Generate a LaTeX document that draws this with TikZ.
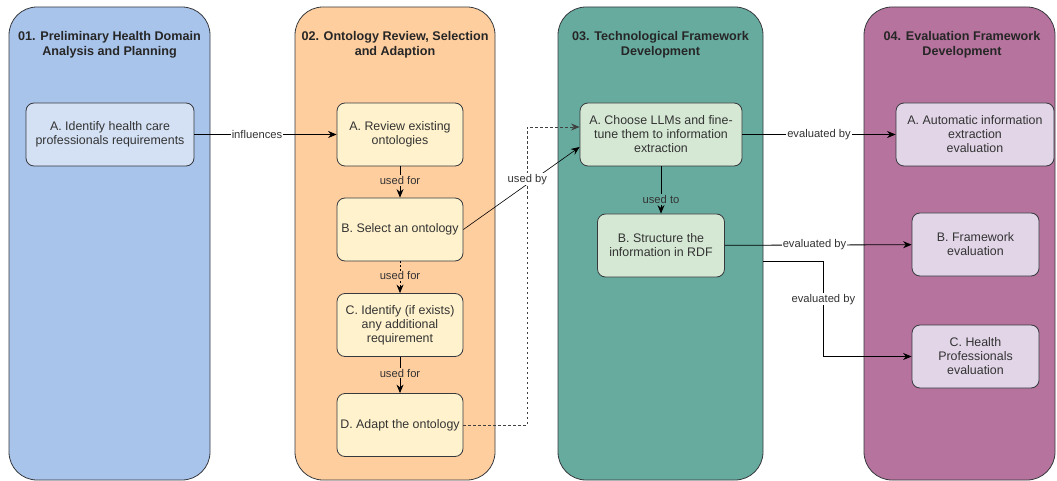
\documentclass[tikz,border=0pt]{standalone}
\usepackage{fontspec}
\setmainfont{Liberation Sans}
\usepackage{tikz}
\usetikzlibrary{arrows.meta, positioning, calc}
\definecolor{laneBlue}{HTML}{A9C4EB}
\definecolor{laneOrange}{HTML}{FFCE9F}
\definecolor{laneTeal}{HTML}{67AB9F}
\definecolor{lanePurple}{HTML}{B5739D}
\definecolor{boxBlue}{HTML}{D4E1F5}
\definecolor{boxYellow}{HTML}{FFF2CC}
\definecolor{boxGreen}{HTML}{D5E8D4}
\definecolor{boxPurple}{HTML}{E1D5E7}
\definecolor{strokeGray}{HTML}{36393D}
\tikzset{
  wf/lane/.style={rectangle, draw=strokeGray, rounded corners=28pt,
    line width=0.8pt, inner sep=0pt, minimum height=473pt},
  wf/title/.style={font=\fontsize{12.6}{15}\selectfont\bfseries,
    align=center, text=black!85},
  wf/box/.style={rectangle, draw=strokeGray, rounded corners=8pt,
    line width=0.8pt, minimum height=63pt, inner sep=0pt, align=center,
    font=\fontsize{12.4}{14}\selectfont, text=black!80},
  wf/arr/.style={-{Stealth[length=8.5pt,width=7pt]}, line width=0.8pt,
    draw=black},
  wf/lbl/.style={font=\fontsize{11.2}{13}\selectfont, text=black!80,
    inner sep=1pt}
}
\begin{document}
\begin{tikzpicture}[x=1pt, y=-1pt]
  \useasboundingbox (0,0) rectangle (1057,481);
  % lanes
  \node[wf/lane, fill=laneBlue, minimum width=201pt] (lane1) at (109.5,243.5) {};
  \node[wf/lane, fill=laneOrange, minimum width=200pt] (lane2) at (395,243.5) {};
  \node[wf/lane, fill=laneTeal, minimum width=205pt] (lane3) at (660.5,243.5) {};
  \node[wf/lane, fill=lanePurple, minimum width=191pt] (lane4) at (959.5,243.5) {};
  \node[wf/title] (t1) at (109.5,44.5) {01. Preliminary Health Domain\\Analysis and Planning};
  \node[wf/title] (t2) at (395,44.5) {02. Ontology Review, Selection\\and Adaption};
  \node[wf/title] (t3) at (660.5,44.5) {03. Technological Framework\\Development};
  \node[wf/title] (t4) at (962,44.5) {04. Evaluation Framework\\Development};

  % steps
  \node[wf/box, fill=boxBlue, minimum width=168pt] (n1a) at (110,134.5)
    {A. Identify health care\\professionals requirements};
  \node[wf/box, fill=boxYellow, minimum width=126pt] (n2a) at (400,134.5)
    {A. Review existing\\ontologies};
  \node[wf/box, fill=boxYellow, minimum width=126pt] (n2b) at (400,229.5)
    {B. Select an ontology};
  \node[wf/box, fill=boxYellow, minimum width=126pt] (n2c) at (400,325)
    {C. Identify (if exists)\\any additional\\requirement};
  \node[wf/box, fill=boxYellow, minimum width=126pt] (n2d) at (400,425)
    {D. Adapt the ontology};
  \node[wf/box, fill=boxGreen, minimum width=162pt] (n3a) at (661,134.5)
    {A. Choose LLMs and fine-\\tune them to information\\extraction};
  \node[wf/box, fill=boxGreen, minimum width=127pt] (n3b) at (661,245.5)
    {B. Structure the\\information in RDF};
  \node[wf/box, fill=boxPurple, minimum width=158pt] (n4a) at (975,134.5)
    {A. Automatic information\\extraction\\evaluation};
  \node[wf/box, fill=boxPurple, minimum width=127pt] (n4b) at (975.5,244.5)
    {B. Framework\\evaluation};
  \node[wf/box, fill=boxPurple, minimum width=127pt] (n4c) at (975.5,356.5)
    {C. Health\\Professionals\\evaluation};

  % connectors
  \draw[wf/arr] (n1a) -- node[wf/lbl, fill=white, pos=0.44] {influences} (n2a);
  \draw[wf/arr] (n2a) -- node[wf/lbl, fill=laneOrange, pos=0.45] {used for} (n2b);
  \draw[wf/arr, dash pattern=on 2pt off 2pt] (n2b) -- node[wf/lbl, fill=laneOrange, pos=0.45] {used for} (n2c);
  \draw[wf/arr] (n2c) -- node[wf/lbl, fill=laneOrange, pos=0.45] {used for} (n2d);
  \draw[wf/arr, dash pattern=on 2.5pt off 2.5pt, draw=black!75] (n2d.east) -- ++(64,0)
    |- ($(n3a.west)+(0,-7.5)$);
  \draw[wf/arr, line width=0.6pt] (n2b.east) -- node[wf/lbl, fill=white, pos=0.55, yshift=5pt] {used by}
    ($(n3a.west)+(0,12.5)$);
  \draw[wf/arr] (n3a) -- node[wf/lbl, fill=laneTeal, pos=0.7] {used to} (n3b);
  \draw[wf/arr] (n3a) -- node[wf/lbl, fill=white] {evaluated by} (n4a);
  \draw[wf/arr] (n3b) -- node[wf/lbl, fill=white, pos=0.48] {evaluated by} (n4b);
  \coordinate (fork) at (lane3.east |- 0,261);
  \draw[wf/arr] (fork) -- ++(60,0) |- node[wf/lbl, fill=white, pos=0.2] {evaluated by} (n4c.west);
\end{tikzpicture}
\end{document}
